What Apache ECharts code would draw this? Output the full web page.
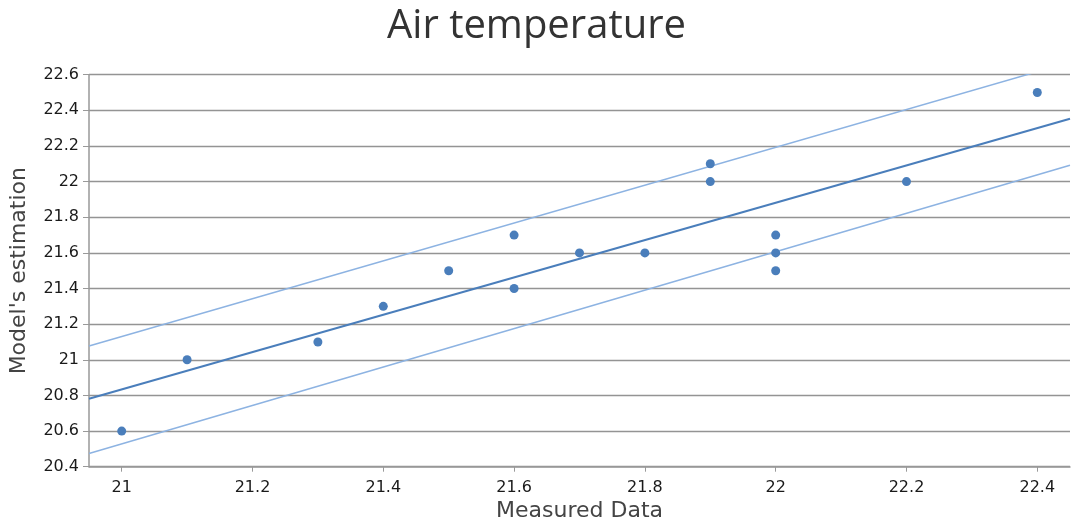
<!DOCTYPE html>
<html>
<head>
<meta charset="utf-8">
<script src="https://cdn.jsdelivr.net/npm/echarts@6/dist/echarts.min.js"></script>
<style>
  html, body { margin: 0; padding: 0; background: #fff; }
  #chart { width: 1073px; height: 528px; }
</style>
</head>
<body>
<div id="chart"></div>
<script>
// Measured vs. modelled air temperature
const measured = [21, 21.1, 21.3, 21.4, 21.5, 21.6, 21.6, 21.7, 21.8, 21.9, 21.9, 22, 22, 22, 22.2, 22.4];
const estimated = [20.6, 21, 21.1, 21.3, 21.5, 21.7, 21.4, 21.6, 21.6, 22.1, 22.0, 21.7, 21.6, 21.5, 22.0, 22.5];

// Fitted line and the upper / lower band, given at the x-range ends
const lineX = [20.95, 22.45];
const fitY = [20.781, 22.353];
const upperY = [21.077, 22.67];
const lowerY = [20.474, 22.092];

const xTicks = [21, 21.2, 21.4, 21.6, 21.8, 22, 22.2, 22.4];

const pairs = (xs, ys) => xs.map((x, i) => [x, ys[i]]);
const fmt = v => String(Math.round(v * 10) / 10);

const axisFont = 'DejaVu Sans';
const chart = echarts.init(document.getElementById('chart'));

chart.setOption({
  animation: false,
  title: {
    text: 'Air temperature',
    left: 'center',
    top: 2,
    textStyle: { fontFamily: 'Open Sans', fontSize: 40, fontWeight: 'normal', color: '#333' }
  },
  grid: { left: 88, right: 3, top: 74.7, bottom: 61.3 },
  xAxis: {
    type: 'value',
    min: 20.95,
    max: 22.45,
    name: 'Measured Data',
    nameLocation: 'middle',
    nameGap: 34,
    nameTextStyle: { fontFamily: axisFont, fontSize: 22, color: '#444' },
    axisLine: { show: true, lineStyle: { color: '#999', width: 1.5 } },
    axisTick: { show: true, customValues: xTicks, length: 5, lineStyle: { color: '#999' } },
    axisLabel: {
      customValues: xTicks,
      formatter: fmt,
      margin: 13,
      fontFamily: axisFont, fontSize: 16, color: '#1a1a1a'
    },
    splitLine: { show: false }
  },
  yAxis: {
    type: 'value',
    min: 20.4,
    max: 22.6,
    interval: 0.2,
    name: "Model's estimation",
    nameLocation: 'middle',
    nameGap: 59,
    nameTextStyle: { fontFamily: axisFont, fontSize: 22, color: '#444' },
    axisLine: { show: true, lineStyle: { color: '#999', width: 1.5 } },
    axisTick: { show: true, length: 6, lineStyle: { color: '#999' } },
    axisLabel: {
      formatter: fmt,
      margin: 10,
      fontFamily: axisFont, fontSize: 16, color: '#1a1a1a'
    },
    splitLine: { show: true, lineStyle: { color: '#949494', width: 1.3 } }
  },
  series: [
    {
      type: 'line',
      data: pairs(lineX, upperY),
      symbol: 'none',
      clip: true,
      lineStyle: { color: '#8db3e2', width: 1.5 },
      z: 2
    },
    {
      type: 'line',
      data: pairs(lineX, lowerY),
      symbol: 'none',
      clip: true,
      lineStyle: { color: '#8db3e2', width: 1.5 },
      z: 2
    },
    {
      type: 'line',
      data: pairs(lineX, fitY),
      symbol: 'none',
      clip: true,
      lineStyle: { color: '#4a7ebb', width: 2 },
      z: 3
    },
    {
      type: 'scatter',
      data: pairs(measured, estimated),
      symbolSize: 9,
      itemStyle: { color: '#4a7ebb', opacity: 1 },
      z: 4
    }
  ]
});
</script>
</body>
</html>
